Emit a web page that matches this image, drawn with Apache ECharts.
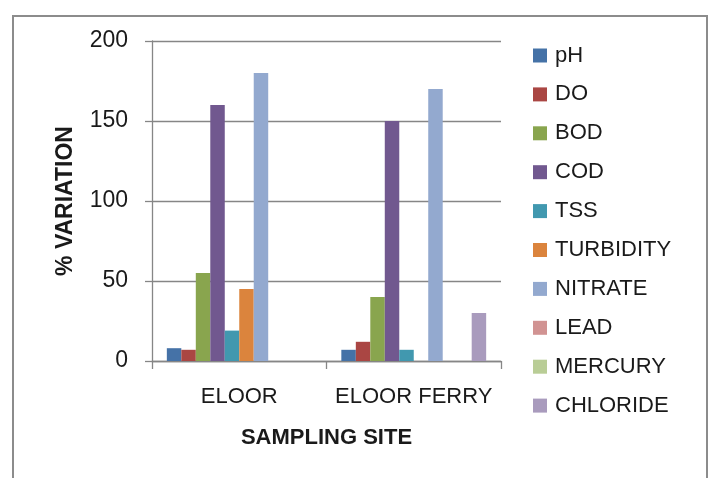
<!DOCTYPE html>
<html><head><meta charset="utf-8">
<script src="https://cdn.jsdelivr.net/npm/echarts@6/dist/echarts.min.js"></script>
<style>
html,body{margin:0;padding:0;background:#fff;overflow:hidden}
#frame{position:absolute;left:12px;top:15px;width:692px;height:480px;border:2px solid #8c8c8c;border-bottom:none;}
#chart{position:absolute;left:0;top:0;width:715px;height:478px}
</style></head><body>
<div id="frame"></div>
<div id="chart"></div>
<script>
const categories = ['ELOOR', 'ELOOR FERRY'];
const seriesNames = ['pH', 'DO', 'BOD', 'COD', 'TSS', 'TURBIDITY', 'NITRATE', 'LEAD', 'MERCURY', 'CHLORIDE'];
const pH = [8, 7];
const DO = [7, 12];
const BOD = [55, 40];
const COD = [160, 150];
const TSS = [19, 7];
const TURBIDITY = [45, 0];
const NITRATE = [180, 170];
const LEAD = [0, 0];
const MERCURY = [0, 0];
const CHLORIDE = [0, 30];
const yTicks = [0, 50, 100, 150, 200];

const seriesData = [pH, DO, BOD, COD, TSS, TURBIDITY, NITRATE, LEAD, MERCURY, CHLORIDE];
const colors = ['#4572A7', '#AA4643', '#89A54E', '#71588F', '#4198AF', '#DB843D', '#93A9CF', '#D19392', '#B9CD96', '#A99BBD'];
const FONT = "'Liberation Sans', Arial, sans-serif";
const TXT = '#1a1a1a';
const GREY = '#868686';

const chart = echarts.init(document.getElementById('chart'), null, {renderer: 'canvas'});
chart.setOption({
  animation: false,
  color: colors,
  textStyle: {fontFamily: FONT},
  grid: {left: 152, right: 214, top: 41, bottom: 117, containLabel: false},
  legend: {
    orient: 'vertical', left: 533, top: 43, padding: 0,
    itemWidth: 14, itemHeight: 14, itemGap: 13.9, icon: 'rect',
    data: seriesNames,
    textStyle: {fontFamily: FONT, fontSize: 22, color: TXT, lineHeight: 25, padding: [0, 0, 0, 3]}
  },
  xAxis: {
    type: 'category', data: categories,
    axisLine: {lineStyle: {color: GREY, width: 1.3}},
    axisTick: {show: true, length: 8, alignWithLabel: false, lineStyle: {color: GREY, width: 1.3}},
    axisLabel: {fontFamily: FONT, fontSize: 22, color: TXT, margin: 25, interval: 0},
    name: 'SAMPLING SITE', nameLocation: 'middle', nameGap: 66,
    nameTextStyle: {fontFamily: FONT, fontSize: 22, fontWeight: 'bold', color: TXT}
  },
  yAxis: {
    type: 'value', min: yTicks[0], max: yTicks[yTicks.length - 1], interval: yTicks[1] - yTicks[0],
    axisLine: {show: true, lineStyle: {color: GREY, width: 1.3}},
    axisTick: {show: true, length: 7, lineStyle: {color: GREY, width: 1.3}},
    splitLine: {show: true, lineStyle: {color: GREY, width: 1.3}},
    axisLabel: {fontFamily: FONT, fontSize: 23, color: TXT, margin: 24},
    name: '% VARIATION', nameLocation: 'middle', nameRotate: 90, nameGap: 75,
    nameTextStyle: {fontFamily: FONT, fontSize: 23, fontWeight: 'bold', color: TXT}
  },
  series: seriesNames.map((n, i) => ({
    name: n, type: 'bar', data: seriesData[i],
    barGap: '0%', barCategoryGap: '17%',
    itemStyle: {color: colors[i]}
  }))
});
</script>
</body></html>
